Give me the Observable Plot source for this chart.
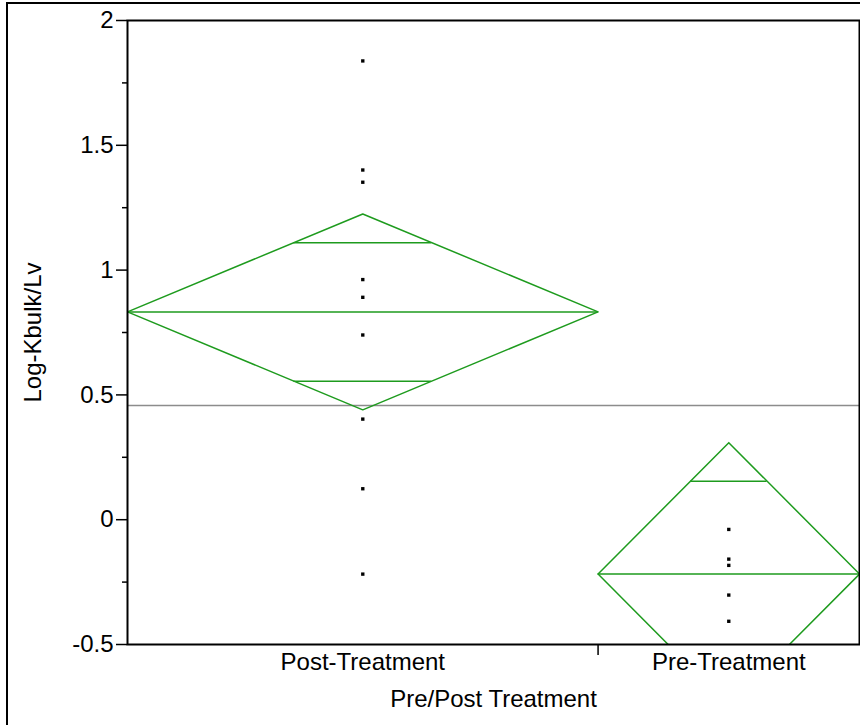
<!DOCTYPE html>
<html><head><meta charset="utf-8">
<script src="https://cdn.jsdelivr.net/npm/d3@7"></script>
<script src="https://cdn.jsdelivr.net/npm/@observablehq/plot@0.6"></script>
<style>
html,body{margin:0;padding:0;background:#fff;overflow:hidden;}
#wrap{position:relative;width:860px;height:725px;overflow:hidden;background:#fff;}
#border{position:absolute;left:6px;top:2px;width:900px;height:800px;border:2px solid #000;}
#chart{position:absolute;left:0;top:0;}
</style></head><body>
<div id="wrap"><div id="border"></div><div id="chart"></div></div>
<script>
const categories = ["Post-Treatment", "Pre-Treatment"];
const postValues = [1.838, 1.401, 1.352, 0.962, 0.891, 0.740, 0.403, 0.124, -0.218];
const preValues = [-0.039, -0.158, -0.183, -0.302, -0.407];
const yTicks = [-0.5, 0, 0.5, 1, 1.5, 2];
const yMinorTicks = [-0.25, 0.25, 0.75, 1.25, 1.75];
const yLabel = "Log-Kbulk/Lv";
const xLabel = "Pre/Post Treatment";
const tCrit = 2.1788; // t(0.975, df = 12)

const W = 860, H = 725;
const green = "#1e9b1e";
const FS = 24;

const groups = [postValues, preValues];
let start = 0;
const g = groups.map((vals, i) => {
  const n = vals.length;
  const o = {cat: categories[i], n, mean: d3.mean(vals), x0: start, x1: start + n, xc: start + n / 2};
  start += n;
  return o;
});
const N = start;
const sse = d3.sum(groups, (vals, i) => d3.sum(vals, v => (v - g[i].mean) ** 2));
const rmse = Math.sqrt(sse / (N - groups.length));
g.forEach(o => {
  o.ci = tCrit * rmse / Math.sqrt(o.n);
  o.ov = o.ci / Math.SQRT2;
  o.half = o.n / 2 * (1 - 1 / Math.SQRT2);
});
const grandMean = d3.mean(groups.flat());

const points = g.flatMap((o, i) => groups[i].map(v => ({x: o.xc, y: v})));
const diamonds = g.flatMap(o => [
  {cat: o.cat, x: o.x0, y: o.mean},
  {cat: o.cat, x: o.xc, y: o.mean + o.ci},
  {cat: o.cat, x: o.x1, y: o.mean},
  {cat: o.cat, x: o.xc, y: o.mean - o.ci},
  {cat: o.cat, x: o.x0, y: o.mean}
]);
const overlaps = g.flatMap(o => [
  {x1: o.xc - o.half, x2: o.xc + o.half, y: o.mean + o.ov},
  {x1: o.xc - o.half, x2: o.xc + o.half, y: o.mean - o.ov}
]);

const chart = Plot.plot({
  width: W, height: H,
  marginLeft: 127, marginRight: 1, marginTop: 20, marginBottom: 81,
  style: {fontFamily: "'Liberation Sans', Arial, sans-serif", fontSize: FS + "px", color: "#000", background: "transparent"},
  x: {domain: [0, N], axis: null},
  y: {domain: [-0.5, 2], axis: null},
  marks: [
    Plot.ruleY([grandMean], {stroke: "#8c8c8c", strokeWidth: 1.5}),
    Plot.line(diamonds, {x: "x", y: "y", z: "cat", stroke: green, strokeWidth: 1.5, clip: true}),
    Plot.ruleY(g, {y: "mean", x1: "x0", x2: "x1", stroke: green, strokeWidth: 1.5}),
    Plot.ruleY(overlaps, {y: "y", x1: "x1", x2: "x2", stroke: green, strokeWidth: 1.5, clip: true}),
    Plot.dot(points, {x: "x", y: "y", symbol: "square", r: 1.9, fill: "#000", stroke: "none"}),
    Plot.frame({stroke: "#000", strokeWidth: 2}),
    Plot.axisY(yTicks, {tickSize: 11, tickPadding: 3, tickFormat: d => String(d), label: null, strokeWidth: 1.5}),
    Plot.axisY(yMinorTicks, {tickSize: 5, tickFormat: () => "", label: null, strokeWidth: 1.5}),
    Plot.axisX(g.slice(1).map(o => o.x0), {tickSize: 11, tickFormat: () => "", label: null, strokeWidth: 1.5}),
    Plot.axisX(g.map(o => o.xc), {tickSize: 0, tickPadding: 8, tickFormat: d => categories[g.findIndex(o => o.xc === d)], label: null}),
    Plot.text([yLabel], {frameAnchor: "left", dx: -94, rotate: -90, textAnchor: "middle", lineAnchor: "middle", fontSize: FS}),
    Plot.text([xLabel], {frameAnchor: "bottom", dy: 55, textAnchor: "middle", lineAnchor: "middle", fontSize: FS})
  ]
});
chart.style.maxWidth = "none";
document.getElementById("chart").appendChild(chart);
</script>
</body></html>
